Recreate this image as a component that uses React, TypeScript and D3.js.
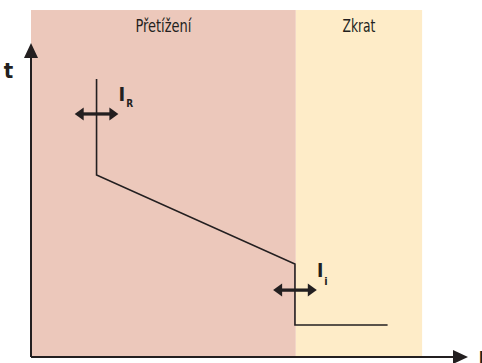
import React from "react";
import * as d3 from "d3";

const W = 482;
const H = 363;

// Zones along the current axis (data units)
const zoneNames = ["Přetížení", "Zkrat"];
const zoneStarts = [0, 6.06];
const zoneEnds = [6.06, 8.95];
const zoneTop = 11.05;

// Trip characteristic (current, time) in data units
const curveX = [1.5, 1.5, 6.04, 6.04, 8.16];
const curveY = [8.85, 5.8, 2.96, 1.02, 1.02];

// Adjustable setting arrows
const settingNames = ["R", "i"];
const settingX = [1.5, 6.04];
const settingY = [7.74, 2.13];
const settingHalfSpan = 0.5;

const axisLabels = ["t", "I"];

const INK = "#231f20";
const ZONE_COLORS = ["#ecc8bb", "#feecc8"];
const FONT = "'Liberation Sans Narrow', 'DejaVu Sans Condensed', 'Arial Narrow', sans-serif";

export default function App() {
  const x = d3.scaleLinear().domain([0, 10]).range([31, 468]);
  const y = d3.scaleLinear().domain([0, 10]).range([357, 43]);

  const line = d3
    .line<number>()
    .x((_, i) => x(curveX[i]))
    .y((d) => y(d));

  const titleWidths = [56, 33];

  const x0 = x(0);
  const y0 = y(0);
  const xEnd = x(10);
  const yEnd = y(10);
  const head = 15;
  const headHalf = 7;

  const arrowHead = 9;
  const arrowHalf = 6.5;

  return (
    <svg
      width={W}
      height={H}
      style={{ position: "absolute", left: 0, top: 0, background: "#fff" }}
    >
      {zoneNames.map((name, i) => (
        <rect
          key={"z" + i}
          x={x(zoneStarts[i])}
          y={y(zoneTop)}
          width={x(zoneEnds[i]) - x(zoneStarts[i])}
          height={y(0) - y(zoneTop)}
          fill={ZONE_COLORS[i]}
        />
      ))}
      {zoneNames.map((name, i) => (
        <text
          key={"t" + i}
          x={(x(zoneStarts[i]) + x(zoneEnds[i])) / 2}
          y={32}
          textAnchor="middle"
          fontFamily={FONT}
          fontSize={18}
          fill={INK}
          textLength={titleWidths[i]}
          lengthAdjust="spacingAndGlyphs"
        >
          {name}
        </text>
      ))}

      {/* axes */}
      <line x1={x0} y1={y0} x2={x0} y2={yEnd + head} stroke={INK} strokeWidth={2} />
      <path
        d={`M${x0},${yEnd} L${x0 - headHalf},${yEnd + head} L${x0 + headHalf},${yEnd + head} Z`}
        fill={INK}
      />
      <line x1={x0} y1={y0} x2={xEnd - head} y2={y0} stroke={INK} strokeWidth={2} />
      <path
        d={`M${xEnd},${y0} L${xEnd - head},${y0 - headHalf} L${xEnd - head},${y0 + headHalf} Z`}
        fill={INK}
      />
      <text
        x={8.5}
        y={78}
        textAnchor="middle"
        fontFamily={FONT}
        fontWeight="bold"
        fontSize={22}
        fill={INK}
      >
        {axisLabels[0]}
      </text>
      <text
        x={478.6}
        y={365}
        fontFamily={FONT}
        fontWeight="bold"
        fontSize={20}
        fill={INK}
      >
        {axisLabels[1]}
      </text>

      {/* curve */}
      <path d={line(curveY) || ""} fill="none" stroke={INK} strokeWidth={1.6} />

      {/* setting arrows */}
      {settingNames.map((name, i) => {
        const cx = x(settingX[i]);
        const cy = y(settingY[i]);
        const l = x(settingX[i] - settingHalfSpan);
        const r = x(settingX[i] + settingHalfSpan);
        return (
          <g key={"s" + i}>
            <line x1={l + arrowHead - 1} y1={cy} x2={r - arrowHead + 1} y2={cy} stroke={INK} strokeWidth={3.3} />
            <path
              d={`M${l},${cy} L${l + arrowHead},${cy - arrowHalf} L${l + arrowHead},${cy + arrowHalf} Z`}
              fill={INK}
            />
            <path
              d={`M${r},${cy} L${r - arrowHead},${cy - arrowHalf} L${r - arrowHead},${cy + arrowHalf} Z`}
              fill={INK}
            />
            <text
              x={cx + 22}
              y={cy - 12.5 - (i === 1 ? 0.2 : 0)}
              fontFamily={FONT}
              fontWeight="bold"
              fontSize={i === 0 ? 20 : 19}
              fill={INK}
            >
              I
              <tspan dx={1} dy={i === 0 ? 6 : 7.4} fontSize={i === 0 ? 10 : 11}>
                {name}
              </tspan>
            </text>
          </g>
        );
      })}
    </svg>
  );
}
